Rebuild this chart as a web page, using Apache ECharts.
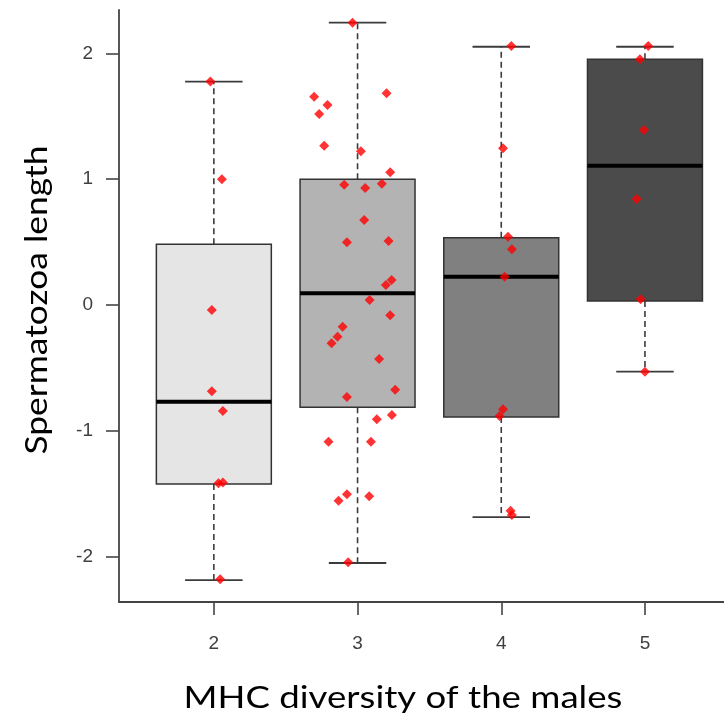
<!DOCTYPE html>
<html><head><meta charset="utf-8">
<script src="https://cdn.jsdelivr.net/npm/echarts@6/dist/echarts.min.js"></script>
<style>html,body{margin:0;padding:0;background:#fff}#c{width:724px;height:720px}</style>
</head><body><div id="c"></div>
<script>
// ---- data ----
const categories = ['2', '3', '4', '5'];
const yTicks = [-2, -1, 0, 1, 2];

// box statistics per group
const whiskerLow  = [-2.186, -2.05, -1.685, -0.53];
const lowerHinge  = [-1.423, -0.813, -0.89, 0.032];
const medians     = [-0.769, 0.093, 0.225, 1.107];
const upperHinge  = [0.483, 1.0, 0.535, 1.952];
const whiskerHigh = [1.775, 2.243, 2.052, 2.052];

// jittered points (x = group position with jitter, y = value)
const g2X = [0.976, 1.056, 0.986, 0.986, 1.063, 1.032, 1.063, 1.044];
const g2Y = [1.775, 0.999, -0.04, -0.686, -0.842, -1.417, -1.41, -2.18];

const g3X = [1.965, 1.698, 1.791, 1.733, 2.202, 1.768, 2.023, 2.227, 1.907, 2.053, 2.169,
             2.046, 1.926, 2.216, 2.197, 2.237, 2.084, 2.227, 1.896, 1.861, 1.819, 2.150,
             2.262, 1.926, 2.134, 2.239, 1.798, 2.093, 1.868, 1.926, 2.081, 1.935];
const g3Y = [2.243, 1.655, 1.589, 1.518, 1.682, 1.266, 1.221, 1.054, 0.956, 0.93, 0.964,
             0.675, 0.498, 0.508, 0.159, 0.199, 0.04, -0.082, -0.172, -0.252, -0.304, -0.429,
             -0.673, -0.731, -0.908, -0.874, -1.086, -1.086, -1.555, -1.504, -1.52, -2.045];

const g4X = [3.070, 3.012, 3.047, 3.074, 3.023, 3.012, 2.988, 3.065, 3.074];
const g4Y = [2.058, 1.245, 0.543, 0.443, 0.225, -0.829, -0.882, -1.635, -1.669];

const g5X = [4.023, 3.965, 3.993, 3.942, 3.970, 4.0];
const g5Y = [2.058, 1.952, 1.39, 0.842, 0.045, -0.53];

const xTitle = 'MHC diversity of the males';
const yTitle = 'Spermatozoa length';

// ---- styles ----
const boxFills = ['#e5e5e5', '#b3b3b3', '#808080', '#4b4b4b'];
const titleFont = 'Lato, "Open Sans", sans-serif';
const tickFont = '"Liberation Sans", Arial, sans-serif';

const boxData = categories.map((c, i) => [i + 1, whiskerLow[i], lowerHinge[i], medians[i], upperHinge[i], whiskerHigh[i]]);
const pts = [];
[[g2X, g2Y], [g3X, g3Y], [g4X, g4Y], [g5X, g5Y]].forEach(([xs, ys]) => {
  xs.forEach((x, k) => pts.push([x, ys[k]]));
});

function renderBox(params, api) {
  const x = api.value(0);
  const pLo = api.coord([x, api.value(1)]);
  const pA = api.coord([x, api.value(2)]);
  const pM = api.coord([x, api.value(3)]);
  const pB = api.coord([x, api.value(4)]);
  const pHi = api.coord([x, api.value(5)]);
  const halfW = api.size([0.4, 0])[0];
  const halfS = api.size([0.2, 0])[0];
  const whisk = { stroke: '#3c3c3c', lineWidth: 1.6, lineDash: [6, 4] };
  const stap = { stroke: '#3c3c3c', lineWidth: 1.8 };
  return {
    type: 'group',
    children: [
      { type: 'line', shape: { x1: pB[0], y1: pB[1], x2: pHi[0], y2: pHi[1] }, style: whisk },
      { type: 'line', shape: { x1: pA[0], y1: pA[1], x2: pLo[0], y2: pLo[1] }, style: whisk },
      { type: 'line', shape: { x1: pHi[0] - halfS, y1: pHi[1], x2: pHi[0] + halfS, y2: pHi[1] }, style: stap },
      { type: 'line', shape: { x1: pLo[0] - halfS, y1: pLo[1], x2: pLo[0] + halfS, y2: pLo[1] }, style: stap },
      { type: 'rect', shape: { x: pB[0] - halfW, y: pB[1], width: 2 * halfW, height: pA[1] - pB[1] },
        style: { fill: boxFills[params.dataIndex], stroke: '#333333', lineWidth: 1.5 } },
      { type: 'line', shape: { x1: pM[0] - halfW, y1: pM[1], x2: pM[0] + halfW, y2: pM[1] },
        style: { stroke: '#000000', lineWidth: 4 } }
    ]
  };
}

const chart = echarts.init(document.getElementById('c'), null, { renderer: 'canvas' });
chart.setOption({
  animation: false,
  backgroundColor: '#ffffff',
  grid: { left: 119, right: 0, top: 10, bottom: 118 },
  xAxis: {
    type: 'value', min: 0.34, max: 4.55,
    splitLine: { show: false },
    axisLine: { show: true, onZero: false, lineStyle: { color: '#444', width: 1.8 } },
    axisTick: { show: true, customValues: [1, 2, 3, 4], length: 13, lineStyle: { color: '#444', width: 1.6 } },
    axisLabel: {
      customValues: [1, 2, 3, 4], margin: 32,
      formatter: v => categories[Math.round(v) - 1],
      color: '#404040', fontSize: 19, fontFamily: tickFont
    }
  },
  yAxis: {
    type: 'value', min: -2.36, max: 2.344,
    splitLine: { show: false },
    axisLine: { show: true, onZero: false, lineStyle: { color: '#444', width: 1.8 } },
    axisTick: { show: true, customValues: yTicks, length: 13, lineStyle: { color: '#444', width: 1.6 } },
    axisLabel: {
      customValues: yTicks, margin: 26,
      color: '#404040', fontSize: 19, fontFamily: tickFont
    }
  },
  graphic: [
    {
      type: 'text', x: 403, y: 698, scaleX: 1.22, silent: true,
      style: {
        text: xTitle, fontSize: 30, fill: '#000', fontFamily: titleFont,
        align: 'center', verticalAlign: 'middle'
      }
    },
    {
      type: 'text', x: 37, y: 300, rotation: Math.PI / 2, scaleX: 1.18, silent: true,
      style: {
        text: yTitle, fontSize: 30, fill: '#000', fontFamily: titleFont,
        align: 'center', verticalAlign: 'middle'
      }
    }
  ],
  series: [
    {
      type: 'custom', renderItem: renderBox, data: boxData,
      encode: { x: 0, y: [1, 2, 3, 4, 5] }, z: 2, silent: true
    },
    {
      type: 'scatter', data: pts, symbol: 'diamond', symbolSize: 10,
      itemStyle: { color: '#ff0000' }, z: 5, silent: true
    }
  ]
});
</script></body></html>
